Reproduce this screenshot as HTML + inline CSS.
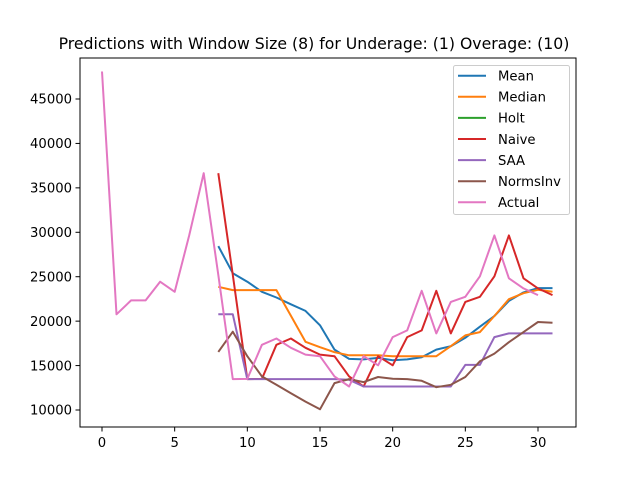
<!DOCTYPE html>
<html><head><meta charset="utf-8"><style>
body{margin:0;background:#fff}
svg{display:block;font-family:"DejaVu Sans","Liberation Sans",sans-serif}
</style></head><body>
<svg id="chart" width="640" height="480" viewBox="0 0 640 480">
<rect width="640" height="480" fill="#fff"/>
<text x="314" y="49" font-size="15.7" text-anchor="middle">Predictions with Window Size (8) for Underage: (1) Overage: (10)</text>
<g id="plot"></g>
</svg>
<script>
const xTicks=[0,5,10,15,20,25,30];
const yTicks=[10000,15000,20000,25000,30000,35000,40000,45000];
const seriesNames=["Mean","Median","Holt","Naive","SAA","NormsInv","Actual"];
const colors=["#1f77b4","#ff7f0e","#2ca02c","#d62728","#9467bd","#8c564b","#e377c2"];
const actual=[48100,20770,22330,22330,24440,23300,29650,36650,25200,13480,13500,17340,18050,17000,16240,16050,13780,12640,16050,15030,18200,18960,23420,18620,22170,22740,25050,29650,24820,23690,22930];
const meanV=[28450,25390,24440,23300,22660,21900,21150,19530,16800,15750,15700,15860,15600,15700,15930,16800,17180,18130,19380,20580,22280,23230,23720,23720];
const medianV=[23870,23490,23490,23490,23490,20600,17680,17070,16500,16160,16160,16160,16050,16050,16050,16050,17180,18390,18770,20580,22470,23150,23530,23300];
const holtV=[];
const naiveV=[36650,25200,13480,13500,17340,18050,17000,16240,16050,13780,12640,16050,15030,18200,18960,23420,18620,22170,22740,25050,29650,24820,23690,22930];
const saaV=[20770,20770,13480,13480,13480,13480,13480,13480,13480,13400,12640,12640,12640,12640,12640,12640,12640,15070,15070,18200,18620,18620,18620,18620];
const normsV=[16540,18810,16050,13780,12840,11890,10940,10080,13030,13480,13140,13710,13520,13480,13290,12570,12840,13710,15480,16350,17630,18770,19900,19820];
const startX=[8,8,8,8,8,8,0];
const NS="http://www.w3.org/2000/svg";
const L=80,R=576,T=58,B=427;
const xs=v=>102+(v)*(538-102)/30;
const ys=v=>410-(v-10000)*(410-99)/35000;
const g=document.getElementById('plot');
function mk(t,a){const e=document.createElementNS(NS,t);for(const k in a)e.setAttribute(k,a[k]);g.appendChild(e);return e;}
const all=[meanV,medianV,holtV,naiveV,saaV,normsV,actual];
all.forEach((arr,i)=>{
 if(!arr.length)return;
 const s=startX[i];
 const pts=arr.map((v,j)=>xs(s+j).toFixed(1)+','+ys(v).toFixed(1)).join(' ');
 const p=mk('polyline',{points:pts,fill:'none',stroke:colors[i],'stroke-width':2,'stroke-linejoin':'round'});
 
 
});
const frame=mk('rect',{x:L,y:T,width:R-L,height:B-T,fill:'none',stroke:'#000','stroke-width':1});


xTicks.forEach(t=>{
 const x=xs(t);
 const tk=mk('line',{x1:x,x2:x,y1:B,y2:B+4.5,stroke:'#000','stroke-width':1});
 
 
 const tx=mk('text',{x:x,y:B+20,'font-size':13.2,'text-anchor':'middle'});
 tx.textContent=t;
 
 
});
yTicks.forEach(t=>{
 const y=ys(t);
 const tk=mk('line',{x1:L-4.5,x2:L,y1:y,y2:y,stroke:'#000','stroke-width':1});
 
 
 const tx=mk('text',{x:L-8,y:y+4.7,'font-size':13.2,'text-anchor':'end'});
 tx.textContent=t;
 
 
});
const lb=mk('rect',{x:453.5,y:65.5,width:116,height:149,rx:2,fill:'#fff','fill-opacity':0.8,stroke:'#ccc','stroke-width':1});


seriesNames.forEach((n,i)=>{
 const y=75.7+i*21.1;
 const ln=mk('line',{x1:458,x2:486,y1:y,y2:y,stroke:colors[i],'stroke-width':2});
 
 
 const tx=mk('text',{x:498,y:y+4.8,'font-size':13.2});
 tx.textContent=n;
 
 
});
</script>
</body></html>
